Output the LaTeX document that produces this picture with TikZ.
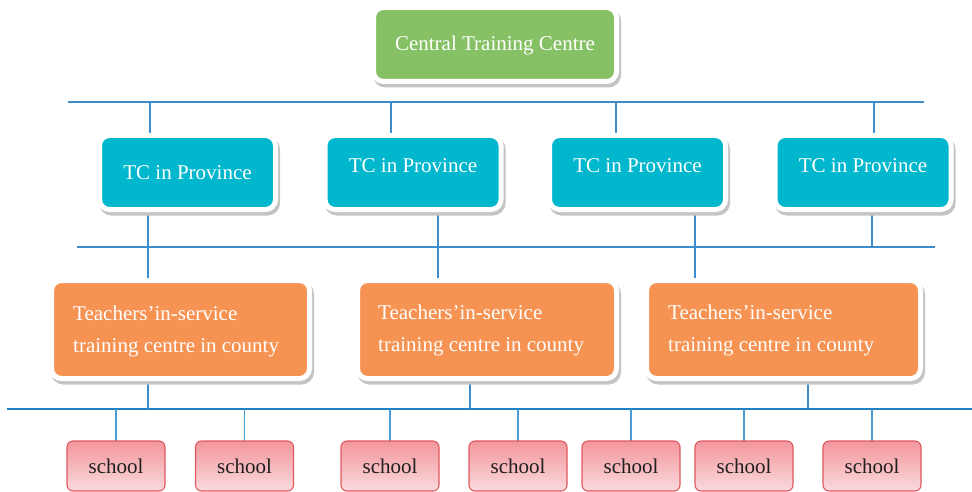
\documentclass[tikz,border=0pt]{standalone}
\usepackage{fontspec}
\setmainfont{Liberation Serif}
\usetikzlibrary{shadows,backgrounds}
\definecolor{cgreen}{HTML}{86C166}
\definecolor{ccyan}{HTML}{00B7CD}
\definecolor{corange}{HTML}{F79352}
\definecolor{cpinktop}{HTML}{F3969C}
\definecolor{cpinkbot}{HTML}{FADADD}
\definecolor{cpinkedge}{HTML}{E0585F}
\definecolor{thinblue}{HTML}{3D8CCB}
\definecolor{thickblue}{HTML}{1E80C0}
\definecolor{dropblue}{HTML}{4A9ED4}
\definecolor{shadowgray}{HTML}{C4C4C4}
\begin{document}
\begin{tikzpicture}[x=1pt,y=-1pt,
  framed/.style={rounded corners=10pt, draw=white, line width=5pt, inner sep=0pt,
    drop shadow={shadow xshift=2pt, shadow yshift=-3.5pt, fill=shadowgray, draw=shadowgray, line width=5pt, opacity=1}},
  centrebox/.style={framed, fill=cgreen, minimum width=243pt, minimum height=74pt},
  provbox/.style={framed, fill=ccyan, minimum width=176pt, minimum height=74pt},
  countybox/.style={framed, fill=corange, minimum height=98pt},
  schoolbox/.style={rounded corners=6pt, draw=cpinkedge, line width=1.1pt,
    top color=cpinktop, bottom color=cpinkbot, minimum width=98pt, minimum height=50pt,
    inner sep=0pt, text=black!88, font=\fontsize{21}{25}\selectfont},
  wtext/.style={text=white, inner sep=0pt, font=\fontsize{21}{32}\selectfont},
  lefttext/.style={wtext, align=left, anchor=west},
  thin/.style={draw=thinblue, line width=1.1pt},
  thick/.style={draw=thickblue, line width=2.3pt},
  schooldrop/.style={draw=dropblue, line width=1.5pt}
]
\useasboundingbox (0,0) rectangle (972,492);

% top
\node[centrebox] (ctc) at (495,44.5) {};
\node[wtext] (ctct) at (495,45) {Central Training Centre};

% provinces
\node[provbox] (p1) at (187.5,172.5) {};
\node[provbox] (p2) at (413,172.5) {};
\node[provbox] (p3) at (637.5,172.5) {};
\node[provbox] (p4) at (863,172.5) {};
\node[wtext] (p1t) at (187.5,173) {TC in Province};
\node[wtext] (p2t) at (413,166) {TC in Province};
\node[wtext] (p3t) at (637.5,166) {TC in Province};
\node[wtext] (p4t) at (863,166) {TC in Province};

% counties
\node[countybox, minimum width=258pt] (c1) at (180.5,329.5) {};
\node[countybox, minimum width=259pt] (c2) at (487,329.5) {};
\node[countybox, minimum width=274pt] (c3) at (783.5,329.5) {};
\node[lefttext] (c1t) at (73,331.5) {Teachers’in-service\\training centre in county};
\node[lefttext] (c2t) at (378,330) {Teachers’in-service\\training centre in county};
\node[lefttext] (c3t) at (668,330) {Teachers’in-service\\training centre in county};

% schools
\foreach \i/\x in {1/116,2/244.5,3/390,4/518,5/631,6/744,7/872}{
  \node[schoolbox] (s\i) at (\x,466) {school};
}

% buses
\coordinate (busAl) at (68,102);  \coordinate (busAr) at (924,102);
\coordinate (busBl) at (77,247);  \coordinate (busBr) at (935,247);
\coordinate (busCl) at (7,409);   \coordinate (busCr) at (972,409);
\coordinate (a1) at (150,102); \coordinate (a2) at (391,102);
\coordinate (a3) at (616,102); \coordinate (a4) at (874,102);
\coordinate (b1) at (148,247); \coordinate (b2) at (438,247);
\coordinate (b3) at (695,247); \coordinate (b4) at (872,247);
\coordinate (k1) at (148,409); \coordinate (k2) at (470,409);
\coordinate (k3) at (808,409);

\begin{scope}[on background layer]
  \draw[thin] (busAl) -- (busAr);
  \draw[thin] (busBl) -- (busBr);
  \draw[thin] (a1) -- (a1 |- p1.center);
  \draw[thin] (a2) -- (a2 |- p2.center);
  \draw[thin] (a3) -- (a3 |- p3.center);
  \draw[thin] (a4) -- (a4 |- p4.center);
  \draw[thin] (b1 |- p1.center) -- (b1 |- c1.center);
  \draw[thin] (b2 |- p2.center) -- (b2 |- c2.center);
  \draw[thin] (b3 |- p3.center) -- (b3 |- c3.center);
  \draw[thin] (b4 |- p4.center) -- (b4);
  \draw[thick] (busCl) -- (busCr);
  \draw[thin, line width=1.5pt] (k1 |- c1.center) -- (k1);
  \draw[thin, line width=1.5pt] (k2 |- c2.center) -- (k2);
  \draw[thin, line width=1.5pt] (k3 |- c3.center) -- (k3);
  \foreach \i in {1,...,7}{
    \draw[schooldrop] (s\i.center) -- (s\i |- busCl);
  }
\end{scope}
\end{tikzpicture}
\end{document}
